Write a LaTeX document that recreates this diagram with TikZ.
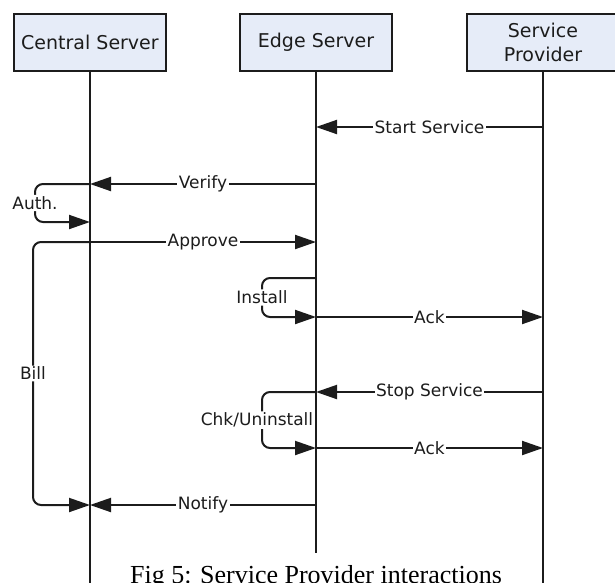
\documentclass[tikz,border=0pt]{standalone}
\usepackage{fontspec}
\setmainfont{DejaVu Sans}
\newfontfamily\capfont{Liberation Serif}
\usepackage{tikz}
\usetikzlibrary{arrows.meta, positioning, calc}

\definecolor{boxfill}{HTML}{E6ECF8}
\definecolor{ink}{HTML}{1C1C1C}

\begin{document}
\begin{tikzpicture}[
    x=1pt, y=-1pt,
    actor/.style={rectangle, draw=ink, fill=boxfill, line width=2pt, minimum width=152pt, minimum height=57pt, align=center, text=ink, font=\fontsize{19}{24}\selectfont},
    lifeline/.style={draw=ink, line width=2pt},
    msg/.style={draw=ink, line width=2pt, -{Triangle[length=21pt, width=14pt]}},
    loopmsg/.style={msg, rounded corners=8pt},
    msglabel/.style={fill=white, inner sep=1.5pt, text=ink, font=\fontsize{17}{20}\selectfont},
    caption/.style={fill=white, anchor=base, inner xsep=8pt, inner ysep=12pt, text height=18pt, font=\capfont\fontsize{26}{30}\selectfont}
]
\clip (0,0) rectangle (615,582);

% Participants
\node[actor] (central) at (90,42.5) {Central Server};
\node[actor] (edge) at (316,42.5) {Edge Server};
\node[actor] (provider) at (543,42.5) {Service\\Provider};
\coordinate (bottom) at (0,600);

% Lifelines
\draw[lifeline] (central) -- (central |- bottom);
\draw[lifeline] (provider) -- (provider |- bottom);

% Caption
\node[caption] (fig) at (316,583) {Fig 5: Service Provider interactions};
\draw[lifeline] (edge) -- (edge |- fig.north);

% Messages
\draw[msg] (provider |- 0,127) -- node[msglabel] {Start Service} (edge |- 0,127);
\draw[msg] (edge |- 0,184) -- node[msglabel] {Verify} (central |- 0,184);
\draw[loopmsg] (central |- 0,184) -- (35,184) -- node[msglabel] {Auth.} (35,222) -- (central |- 0,222);
\draw[msg] (central |- 0,242) -- node[msglabel] {Approve} (edge |- 0,242);
\draw[loopmsg] (central |- 0,242) -- (33,242) -- node[msglabel] {Bill} (33,505) -- (central |- 0,505);
\draw[loopmsg] (edge |- 0,278) -- (262,278) -- node[msglabel] {Install} (262,317) -- (edge |- 0,317);
\draw[msg] (edge |- 0,317) -- node[msglabel] {Ack} (provider |- 0,317);
\draw[msg] (provider |- 0,392) -- node[msglabel] {Stop Service} (edge |- 0,392);
\draw[loopmsg] (edge |- 0,392) -- (262,392) -- node[msglabel, xshift=-5pt] {Chk/Uninstall} (262,448) -- (edge |- 0,448);
\draw[msg] (edge |- 0,448) -- node[msglabel] {Ack} (provider |- 0,448);
\draw[msg] (edge |- 0,505) -- node[msglabel] {Notify} (central |- 0,505);

\end{tikzpicture}
\end{document}
